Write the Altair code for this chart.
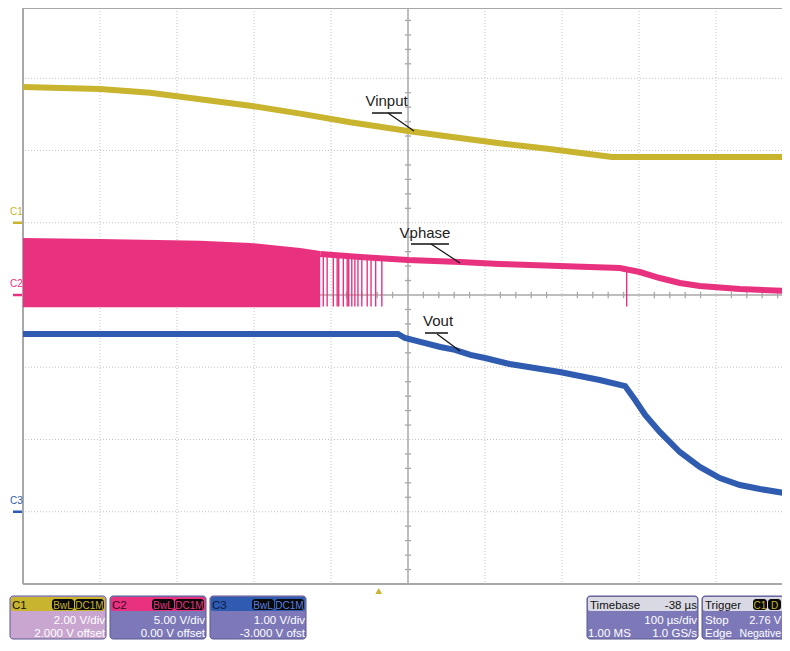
import altair as alt
import pandas as pd

# ---------------- data ----------------
# time: microseconds relative to screen centre (100 us/div); amplitude: screen divisions
vin_t = [-500, -400, -335, -270, -205, -140, -75, 0, 55, 119, 184, 265, 496]
vin_y = [2.88, 2.85, 2.80, 2.71, 2.62, 2.51, 2.39, 2.27, 2.19, 2.10, 2.02, 1.91, 1.91]

band_t = [-500, -400, -270, -205, -140, -114]
band_top = [0.79, 0.775, 0.75, 0.72, 0.65, 0.61]
band_bot = [-0.17, -0.17, -0.17, -0.17, -0.17, -0.17]

spike_t = [-110, -105, -97, -92, -90, -84, -79, -77, -73, -69, -65, -60, -53, -48, -42, -34, 284]
spike_top = [0.58, 0.58, 0.57, 0.57, 0.57, 0.56, 0.56, 0.56, 0.55, 0.55, 0.55, 0.54, 0.54, 0.53, 0.53, 0.52, 0.37]
spike_bot = [-0.16] * 17

vph_t = [-114, -62, 0, 68, 119, 197, 275, 301, 327, 353, 379, 431, 496]
vph_y = [0.567, 0.526, 0.484, 0.457, 0.429, 0.401, 0.374, 0.318, 0.235, 0.166, 0.125, 0.083, 0.055]

vout_t = [-500, -13, -4, 16, 42, 61, 81, 100, 132, 197, 249, 282, 295, 308, 327, 353, 379, 405, 431, 457, 496]
vout_y = [-0.54, -0.54, -0.595, -0.65, -0.72, -0.76, -0.83, -0.872, -0.955, -1.066, -1.176, -1.26,
          -1.453, -1.66, -1.896, -2.173, -2.38, -2.533, -2.63, -2.685, -2.754]

ch_names = ["C1", "C2", "C3"]
ch_levels = [1.0, 0.0, -3.0]
trigger_t = [-38]

vgrid_t = [-400, -300, -200, -100, 100, 200, 300, 400]
hgrid_y = [-3, -2, -1, 1, 2, 3]

YEL = "#c8b42e"
PINK = "#e8327f"
BLUE = "#2f5bb0"
FONT = "Liberation Sans"

# ---------------- geometry ----------------
TOTAL_W, TOTAL_H = 774, 632
PAD_L = 15
W, H = TOTAL_W - PAD_L, 576
X_DOM = [-500, -500 + W / 0.77]
Y_DOM = [-4, 3.9723]
OX, OY = 23, 8  # page position of plot origin

xs = alt.Scale(domain=X_DOM, nice=False, zero=False)
ys = alt.Scale(domain=Y_DOM, nice=False, zero=False)


def X(f):
    return alt.X(f, type="quantitative", scale=xs, axis=None)


def Y(f):
    return alt.Y(f, type="quantitative", scale=ys, axis=None)


def px(v):
    return alt.value(v - OX)


def py(v):
    return alt.value(v - OY)


layers = []

# grid
layers.append(alt.Chart(pd.DataFrame({"t": vgrid_t})).mark_rule(
    color="#c4c4c4", strokeDash=[1, 2], strokeWidth=1).encode(x=X("t")))
layers.append(alt.Chart(pd.DataFrame({"v": hgrid_y})).mark_rule(
    color="#c4c4c4", strokeDash=[1, 2], strokeWidth=1).encode(y=Y("v")))
layers.append(alt.Chart(pd.DataFrame({"t": [0]})).mark_rule(
    color="#a8a8a8", strokeWidth=1.5).encode(x=X("t")))
layers.append(alt.Chart(pd.DataFrame({"v": [0]})).mark_rule(
    color="#a8a8a8", strokeWidth=1.5).encode(y=Y("v")))

# minor ticks on centre lines
tx = [t for t in range(-480, 500, 20) if t % 100 != 0 and t < X_DOM[1]]
layers.append(alt.Chart(pd.DataFrame({"t": tx, "a": [-0.045] * len(tx), "b": [0.045] * len(tx)}))
              .mark_rule(color="#a8a8a8", strokeWidth=1.3)
              .encode(x=X("t"), y=Y("a"), y2="b"))
ty = [k / 5 for k in range(-19, 20) if k % 5 != 0]
layers.append(alt.Chart(pd.DataFrame({"v": ty, "a": [-4.0] * len(ty), "b": [4.0] * len(ty)}))
              .mark_rule(color="#a8a8a8", strokeWidth=1.3)
              .encode(y=Y("v"), x=X("a"), x2="b"))

# border
layers.append(alt.Chart(pd.DataFrame({"t": [X_DOM[0]]})).mark_rule(
    color="#a8a8a8", strokeWidth=2).encode(x=X("t")))
layers.append(alt.Chart(pd.DataFrame({"v": [Y_DOM[0], Y_DOM[1]]})).mark_rule(
    color="#a8a8a8", strokeWidth=2).encode(y=Y("v")))

# traces
layers.append(alt.Chart(pd.DataFrame({"t": vin_t, "v": vin_y})).mark_line(
    color=YEL, strokeWidth=6, clip=True).encode(x=X("t"), y=Y("v")))

layers.append(alt.Chart(pd.DataFrame({"t": band_t, "a": band_top, "b": band_bot})).mark_area(
    color=PINK, opacity=1, clip=True).encode(x=X("t"), y=Y("a"), y2="b"))
layers.append(alt.Chart(pd.DataFrame({"t": spike_t, "a": spike_top, "b": spike_bot})).mark_rule(
    color=PINK, strokeWidth=1.4).encode(x=X("t"), y=Y("a"), y2="b"))
layers.append(alt.Chart(pd.DataFrame({"t": vph_t, "v": vph_y})).mark_line(
    color=PINK, strokeWidth=6, clip=True).encode(x=X("t"), y=Y("v")))

layers.append(alt.Chart(pd.DataFrame({"t": vout_t, "v": vout_y})).mark_line(
    color=BLUE, strokeWidth=6, clip=True).encode(x=X("t"), y=Y("v")))

# trace annotations
ann = pd.DataFrame({
    "label": ["Vinput", "Vphase", "Vout"],
    "tx": [-27.9, 22.1, 39.0], "ty": [2.616, 0.789, -0.429],
    "u0": [-46.8, 3.9, 22.1], "u1": [-7.8, 53.2, 51.9], "uy": [2.519, 0.706, -0.526],
    "l0x": [-26.0, 29.9, 37.7], "l0y": [2.519, 0.706, -0.54],
    "l1x": [7.8, 67.5, 67.5], "l1y": [2.27, 0.443, -0.775],
})
layers.append(alt.Chart(ann).mark_text(font=FONT, fontSize=15, color="#222222",
                                       baseline="alphabetic").encode(x=X("tx"), y=Y("ty"), text="label"))
layers.append(alt.Chart(ann).mark_rule(color="#111111", strokeWidth=1.5).encode(
    x=X("u0"), x2="u1", y=Y("uy")))
layers.append(alt.Chart(ann).mark_rule(color="#111111", strokeWidth=1.2).encode(
    x=X("l0x"), x2="l1x", y=Y("l0y"), y2="l1y"))

# channel ground markers
chs = pd.DataFrame({"ch": ch_names, "lvl": ch_levels, "c": [YEL, PINK, BLUE]})
layers.append(alt.Chart(chs).mark_rule(strokeWidth=2.5).encode(
    x=px(13), x2=px(22), y=Y("lvl"), color=alt.Color("c:N", scale=None)))
layers.append(alt.Chart(chs).mark_text(font=FONT, fontSize=10, dy=-8, align="center",
                                       baseline="alphabetic").encode(
    x=px(16.5), y=Y("lvl"), text="ch", color=alt.Color("c:N", scale=None)))

# trigger position marker
layers.append(alt.Chart(pd.DataFrame({"t": trigger_t})).mark_point(
    shape="triangle-up", filled=True, size=45, color=YEL, opacity=1).encode(x=X("t"), y=py(591)))

# ---------------- info panels ----------------
PANEL_BODY = "#7d79b8"
P_TOP, P_BOT = 596, 639
H_TOP, H_BOT = 597, 611
ROW1, ROW2 = 624, 637
panels = pd.DataFrame({
    "x0": [10, 110, 210, 587, 702], "x1": [106, 206, 306, 698, 800],
    "head": [YEL, PINK, BLUE, "#d9d9e4", "#d9d9e4"],
    "body": ["#c8a6cf", PANEL_BODY, PANEL_BODY, PANEL_BODY, PANEL_BODY],
})
panels["px0"] = panels.x0 - OX
panels["px1"] = panels.x1 - OX
layers.append(alt.Chart(panels).mark_rect(cornerRadius=3, stroke="#5b5890", strokeWidth=1).encode(
    x=alt.X("px0:Q", scale=None), x2="px1:Q", y=py(P_TOP), y2=py(P_BOT),
    color=alt.Color("body:N", scale=None)))
panels["hx0"] = panels.px0 + 1
panels["hx1"] = panels.px1 - 1
layers.append(alt.Chart(panels).mark_rect(cornerRadius=2).encode(
    x=alt.X("hx0:Q", scale=None), x2="hx1:Q", y=py(H_TOP), y2=py(H_BOT),
    color=alt.Color("head:N", scale=None)))

# black tag boxes in the headers
tags = pd.DataFrame({
    "x0": [52, 75, 152, 175, 252, 275, 753, 768],
    "x1": [74, 104, 174, 204, 274, 304, 767, 781],
    "txt": ["BwL", "DC1M", "BwL", "DC1M", "BwL", "DC1M", "C1", "D"],
    "c": [YEL, YEL, PINK, PINK, "#5a80e0", "#5a80e0", YEL, YEL],
})
tags["px0"] = tags.x0 - OX
tags["px1"] = tags.x1 - OX
tags["pxc"] = (tags.x0 + tags.x1) / 2 - OX
layers.append(alt.Chart(tags).mark_rect(cornerRadius=3, color="#0a0a0a").encode(
    x=alt.X("px0:Q", scale=None), x2="px1:Q", y=py(H_TOP + 2), y2=py(H_BOT - 1)))
layers.append(alt.Chart(tags).mark_text(font=FONT, fontSize=10, align="center",
                                        baseline="alphabetic").encode(
    x=alt.X("pxc:Q", scale=None), y=py(H_BOT - 2.5), text="txt", color=alt.Color("c:N", scale=None)))

# panel texts
left_txt = pd.DataFrame({
    "x": [12, 112, 212, 590, 705, 705, 705, 588],
    "y": [H_BOT - 2] * 5 + [ROW1, ROW2, ROW2],
    "txt": ["C1", "C2", "C3", "Timebase", "Trigger", "Stop", "Edge", "1.00 MS"],
    "c": ["#111111", "#3a0a22", "#0c1a40", "#111111", "#111111", "#ffffff", "#ffffff", "#ffffff"],
})
left_txt["px"] = left_txt.x - OX
left_txt["py"] = left_txt.y - OY
layers.append(alt.Chart(left_txt).mark_text(font=FONT, fontSize=11.5, align="left",
                                            baseline="alphabetic").encode(
    x=alt.X("px:Q", scale=None), y=alt.Y("py:Q", scale=None), text="txt",
    color=alt.Color("c:N", scale=None)))

right_txt = pd.DataFrame({
    "x": [105, 105, 205, 205, 305, 305, 697, 697, 697, 781, 781],
    "y": [ROW1, ROW2, ROW1, ROW2, ROW1, ROW2, H_BOT - 2, ROW1, ROW2, ROW1, ROW2],
    "txt": ["2.00 V/div", "2.000 V offset", "5.00 V/div", "0.00 V offset", "1.00 V/div",
            "-3.000 V ofst", "-38 µs", "100 µs/div", "1.0 GS/s", "2.76 V", "Negative"],
    "c": ["#ffffff"] * 6 + ["#111111"] + ["#ffffff"] * 4,
    "s": [11.5] * 9 + [11, 10.5],
})
right_txt["px"] = right_txt.x - OX
right_txt["py"] = right_txt.y - OY
layers.append(alt.Chart(right_txt).mark_text(font=FONT, align="right",
                                             baseline="alphabetic").encode(
    x=alt.X("px:Q", scale=None), y=alt.Y("py:Q", scale=None), text="txt",
    size=alt.Size("s:Q", scale=None),
    color=alt.Color("c:N", scale=None)))

chart = alt.layer(*layers).properties(
    width=W, height=H,
    padding={"left": PAD_L, "top": 0, "right": 0, "bottom": TOTAL_H - H},
    autosize=alt.AutoSizeParams(type="none"),
    background="white",
).configure_view(stroke=None)

chart.save("out.html", embed_options={"renderer": "svg", "actions": False})
